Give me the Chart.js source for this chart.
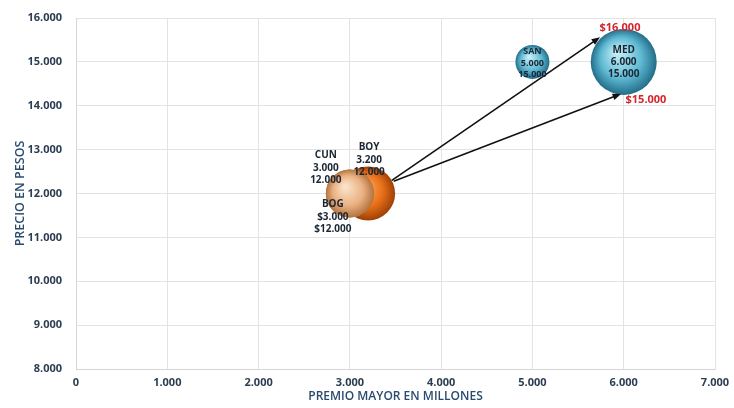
<!DOCTYPE html>
<html>
<head>
<meta charset="utf-8">
<script src="https://cdn.jsdelivr.net/npm/chart.js@4/dist/chart.umd.min.js"></script>
<style>
  html, body { margin: 0; padding: 0; background: #ffffff; }
  #wrap { width: 734px; height: 408px; }
</style>
</head>
<body>
<div id="wrap"><canvas id="c" width="734" height="408"></canvas></div>
<script>
// Regional lottery: top prize (millions) vs ticket price (pesos)
const regions      = ['SAN', 'MED', 'BOY', 'CUN', 'BOG'];
const premioMayor  = [5000, 6000, 3200, 3000, 3000];
const precio       = [15000, 15000, 12000, 12000, 12000];
const bubbleRadius = [17, 33, 27, 24, 24];
const currencySign = [false, false, false, false, true];

// Price-increase arrows and the new prices they announce
const newPrice   = [16000, 15000];
const arrowFromX = [3460, 3480];
const arrowFromY = [12300, 12280];
const arrowToX   = [5740, 5970];
const arrowToY   = [15560, 14270];

const xTicks = [0, 1000, 2000, 3000, 4000, 5000, 6000, 7000];
const yTicks = [8000, 9000, 10000, 11000, 12000, 13000, 14000, 15000, 16000];

function fmt(n) {
  return String(Math.round(n)).replace(/\B(?=(\d{3})+(?!\d))/g, '.');
}

// sphere shading per region
const palettes = {
  SAN: ['#c6eef8', '#5fb9d3', '#226d89'],
  MED: ['#c6eef8', '#5fb9d3', '#226d89'],
  BOY: ['#ffb060', '#e9701a', '#9c4006'],
  CUN: ['#fbe3c9', '#eab284', '#b4743e'],
  BOG: ['#fbe3c9', '#eab284', '#b4743e']
};

function sphereFill(ctx) {
  const chart = ctx.chart;
  const i = ctx.dataIndex;
  const pal = palettes[regions[i]];
  if (!chart.chartArea || !chart.scales.x) return pal[1];
  const x = chart.scales.x.getPixelForValue(premioMayor[i]);
  const y = chart.scales.y.getPixelForValue(precio[i]);
  const r = bubbleRadius[i];
  const g = chart.ctx.createRadialGradient(x - r * 0.2, y - r * 0.3, r * 0.05, x, y, r);
  g.addColorStop(0, pal[0]);
  g.addColorStop(0.6, pal[1]);
  g.addColorStop(1, pal[2]);
  return g;
}

// text placement around each bubble (pixel offsets from its centre)
const labelPlace = {
  SAN: { dx: 0,   dy: -10, size: 9 },
  MED: { dx: 0,   dy: -12, size: 10 },
  BOY: { dx: 1,   dy: -46, size: 10 },
  CUN: { dx: -24, dy: -38, size: 10 },
  BOG: { dx: -17, dy: 11,  size: 10 }
};

const annotations = {
  id: 'annotations',
  afterDatasetsDraw(chart) {
    const c = chart.ctx;
    const xs = chart.scales.x, ys = chart.scales.y;
    c.save();
    // arrows
    for (let k = 0; k < newPrice.length; k++) {
      const x0 = xs.getPixelForValue(arrowFromX[k]);
      const y0 = ys.getPixelForValue(arrowFromY[k]);
      const x1 = xs.getPixelForValue(arrowToX[k]);
      const y1 = ys.getPixelForValue(arrowToY[k]);
      const ang = Math.atan2(y1 - y0, x1 - x0);
      const head = 9;
      c.strokeStyle = '#111';
      c.fillStyle = '#111';
      c.lineWidth = 1.6;
      c.beginPath();
      c.moveTo(x0, y0);
      c.lineTo(x1 - Math.cos(ang) * head * 0.8, y1 - Math.sin(ang) * head * 0.8);
      c.stroke();
      c.beginPath();
      c.moveTo(x1, y1);
      c.lineTo(x1 - head * Math.cos(ang - 0.38), y1 - head * Math.sin(ang - 0.38));
      c.lineTo(x1 - head * Math.cos(ang + 0.38), y1 - head * Math.sin(ang + 0.38));
      c.closePath();
      c.fill();
      // new price label
      c.fillStyle = '#d3262b';
      c.font = 'bold 11px "Open Sans", sans-serif';
      c.textAlign = 'center';
      c.textBaseline = 'middle';
      const lx = k === 0 ? x1 + 20 : x1 + 25;
      const ly = k === 0 ? y1 - 9 : y1 + 6;
      c.fillText('$' + fmt(newPrice[k]), lx, ly);
    }
    // bubble labels
    c.fillStyle = '#1b2633';
    c.textAlign = 'center';
    c.textBaseline = 'middle';
    regions.forEach((name, i) => {
      const p = labelPlace[name];
      const cx = xs.getPixelForValue(premioMayor[i]) + p.dx;
      const cy = ys.getPixelForValue(precio[i]) + p.dy;
      const pre = currencySign[i] ? '$' : '';
      c.font = 'bold ' + p.size + 'px "Open Sans", sans-serif';
      const lines = [name, pre + fmt(premioMayor[i]), pre + fmt(precio[i])];
      const step = p.size + 2.2;
      lines.forEach((t, j) => c.fillText(t, cx, cy + j * step));
    });
    c.restore();
  }
};

new Chart(document.getElementById('c'), {
  type: 'bubble',
  data: {
    datasets: [{
      label: 'Loterías',
      data: regions.map((r, i) => ({ x: premioMayor[i], y: precio[i], r: bubbleRadius[i] })),
      backgroundColor: sphereFill,
      borderWidth: 0,
      hoverRadius: 0
    }]
  },
  options: {
    responsive: false,
    animation: false,
    events: [],
    layout: { autoPadding: false, padding: { top: 18, right: 19, left: 9, bottom: 0 } },
    plugins: { legend: { display: false }, tooltip: { enabled: false } },
    scales: {
      x: {
        type: 'linear',
        min: xTicks[0],
        max: xTicks[xTicks.length - 1],
        afterBuildTicks(s) { s.ticks = xTicks.map(v => ({ value: v })); },
        afterFit(s) { s.height = 39; s.paddingLeft = 0; s.paddingRight = 0; },
        grid: { color: '#e3e3e3', drawTicks: false, lineWidth: 1 },
        border: { color: '#d6d6d6' },
        ticks: {
          padding: 7,
          color: '#2c3d52',
          font: { family: '"Open Sans", sans-serif', size: 11, weight: 'bold' },
          callback: v => fmt(v)
        },
        title: {
          display: true,
          text: 'PREMIO MAYOR EN MILLONES',
          color: '#2a4a6e',
          font: { family: '"Open Sans", sans-serif', size: 12, weight: '600' }
        }
      },
      y: {
        type: 'linear',
        min: yTicks[0],
        max: yTicks[yTicks.length - 1],
        afterBuildTicks(s) { s.ticks = yTicks.map(v => ({ value: v })); },
        afterFit(s) { s.width = 67; s.paddingTop = 0; s.paddingBottom = 0; },
        grid: { color: '#e3e3e3', drawTicks: false, lineWidth: 1 },
        border: { color: '#d6d6d6' },
        ticks: {
          padding: 14,
          color: '#2c3d52',
          font: { family: '"Open Sans", sans-serif', size: 11, weight: 'bold' },
          callback: v => fmt(v)
        },
        title: {
          display: true,
          text: 'PRECIO EN PESOS',
          color: '#2a4a6e',
          font: { family: '"Open Sans", sans-serif', size: 12.5, weight: '600' }
        }
      }
    }
  },
  plugins: [annotations]
});
</script>
</body>
</html>
